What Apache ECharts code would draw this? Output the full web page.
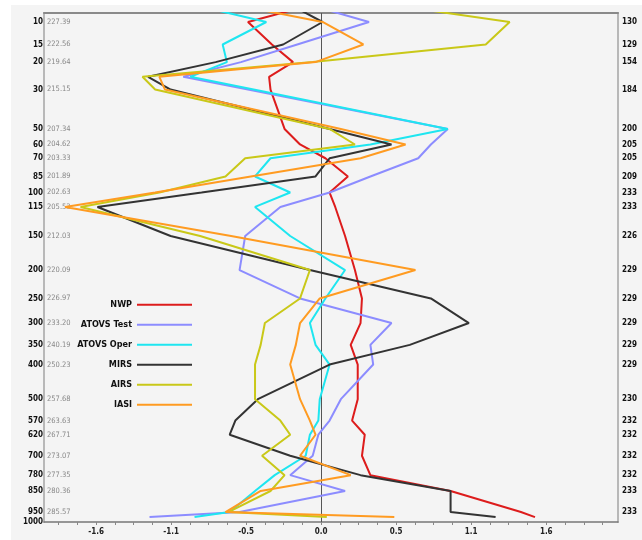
<!DOCTYPE html>
<html><head><meta charset="utf-8">
<script src="https://cdn.jsdelivr.net/npm/echarts@6/dist/echarts.min.js"></script>
<style>
html,body{margin:0;padding:0;background:#fff;width:642px;height:540px;overflow:hidden;}
#c{position:absolute;left:11px;top:5px;width:631px;height:535px;background:#f4f4f4;}
</style></head>
<body><div id="c"></div>
<script>
// Profile levels (hPa) where the curves have vertices
const levels = [8,10,15,20,25,30,50,60,70,85,100,115,150,200,250,300,350,400,500,570,620,700,780,850,950,975];
// Series values (one per level)
const nwp       = [-0.22,-0.52,-0.35,-0.20,-0.37,-0.36,-0.26,-0.15,0.03,0.19,0.06,0.10,0.17,0.24,0.29,0.28,0.21,0.26,0.26,0.22,0.31,0.29,0.35,0.92,1.42,1.52];
const atovsTest = [0.06,0.34,-0.17,-0.57,-0.98,-0.52,0.90,0.78,0.69,0.35,0.06,-0.29,-0.54,-0.58,-0.15,0.50,0.35,0.37,0.14,0.06,-0.02,-0.06,-0.22,0.17,-0.58,-1.22];
const atovsOper = [-0.73,-0.39,-0.70,-0.67,-0.93,-0.48,0.90,0.35,-0.36,-0.47,-0.22,-0.47,-0.22,0.17,0.03,-0.08,-0.04,0.06,-0.01,-0.02,-0.08,-0.11,-0.33,-0.47,-0.65,-0.90];
const mirs      = [-0.14,0.01,-0.27,-0.75,-1.23,-1.07,0.06,0.50,0.06,-0.04,-0.85,-1.59,-1.07,-0.08,0.78,1.05,0.63,0.06,-0.45,-0.61,-0.65,-0.22,0.28,0.92,0.92,1.24];
const airs      = [0.78,1.34,1.17,-0.06,-1.27,-1.18,0.06,0.24,-0.54,-0.68,-1.15,-1.71,-0.86,-0.08,-0.15,-0.40,-0.43,-0.47,-0.47,-0.29,-0.22,-0.42,-0.26,-0.36,-0.66,0.04];
const iasi      = [-0.40,0.01,0.30,-0.04,-1.15,-1.11,0.14,0.60,0.28,-0.50,-1.18,-1.82,-0.64,0.67,-0.01,-0.15,-0.18,-0.22,-0.15,-0.08,-0.04,-0.15,0.21,-0.43,-0.68,0.52];

// Tick labels
const pressureLabels = [10,15,20,30,50,60,70,85,100,115,150,200,250,300,350,400,500,570,620,700,780,850,950,1000];
const tempLabels = ['227.39','222.56','219.64','215.15','207.34','204.62','203.33','201.89','202.63','205.53','212.03','220.09','226.97','233.20','240.19','250.23','257.68','263.63','267.71','273.07','277.35','280.36','285.57',''];
const rightLabels = ['130','129','154','184','200','205','205','209','233','233','226','229','229','229','229','229','230','232','232','232','232','233','233',''];
const xStep = 1.6/3;
const xTickLabels = [-3,-2,-1,0,1,2,3].map(k => k*xStep);

const seriesNames = ['NWP','ATOVS Test','ATOVS Oper','MIRS','AIRS','IASI'];
const seriesValues = [nwp, atovsTest, atovsOper, mirs, airs, iasi];
const colors = ['#dd1c1c','#8c8cff','#1ee6f0','#333333','#c9c818','#ff9b21'];

// pressure scale p^0.286
const EXP = 0.286;
const tf = p => Math.pow(p, EXP);
const yMin = 1.837, yMax = tf(1000);
const idxOf = v => pressureLabels.findIndex(p => Math.abs(tf(p) - v) < 1e-6);
const labelVals = pressureLabels.map(tf);
const minorTicks = [];
for (let k = -14; k <= 15; k++) minorTicks.push(k * xStep / 4);

const narrow = '"Liberation Sans Narrow","DejaVu Sans Condensed","Liberation Sans",sans-serif';

const chart = echarts.init(document.getElementById('c'), null, {renderer:'canvas'});
const yBase = {
  type:'value', min:yMin, max:yMax, inverse:true,
  splitLine:{show:false}, axisTick:{show:false}
};
chart.setOption({
  animation:false,
  backgroundColor:'#f4f4f4',
  grid:{left:33, top:8, right:24, bottom:18},
  legend:{
    orient:'vertical', right:449, top:295, padding:0,
    align:'right', itemWidth:55, itemHeight:12, itemGap:10.4,
    itemStyle:{opacity:0},
    data:seriesNames,
    textStyle:{fontFamily:narrow, fontWeight:'bold', fontSize:9, color:'#111'}
  },
  xAxis:[{
    type:'value', position:'bottom', min:-1.97, max:2.11,
    splitLine:{show:false},
    axisLine:{show:true, onZero:false, lineStyle:{color:'#777', width:1.5}},
    axisTick:{show:true, customValues:minorTicks, length:3, lineStyle:{color:'#888'}},
    axisLabel:{customValues:xTickLabels, formatter:v => v.toFixed(1), fontSize:8, color:'#222', fontWeight:'bold', fontFamily:narrow, margin:6}
  },{
    type:'value', position:'top', min:-1.97, max:2.11,
    splitLine:{show:false},
    axisLine:{show:true, onZero:false, lineStyle:{color:'#8a8a8a', width:2}},
    axisTick:{show:false}, axisLabel:{show:false}
  }],
  yAxis:[
    Object.assign({}, yBase, {
      position:'left',
      axisLine:{show:true, onZero:false, lineStyle:{color:'#b8b8b8', width:2}},
      axisLabel:{customValues:labelVals, formatter:v => String(pressureLabels[idxOf(v)]),
        fontSize:8, fontWeight:'bold', color:'#111', fontFamily:narrow, margin:1}
    }),
    Object.assign({}, yBase, {
      position:'left',
      axisLine:{show:false},
      axisLabel:{inside:true, customValues:labelVals, formatter:v => tempLabels[idxOf(v)],
        fontSize:7.5, color:'#888', fontFamily:narrow, margin:3}
    }),
    Object.assign({}, yBase, {
      position:'right',
      axisLine:{show:true, onZero:false, lineStyle:{color:'#b8b8b8', width:2}},
      axisLabel:{customValues:labelVals, formatter:v => rightLabels[idxOf(v)],
        fontSize:8, fontWeight:'bold', color:'#111', fontFamily:narrow, margin:4}
    })
  ],
  series: seriesNames.map((name, i) => {
    const s = {
      name, type:'line', xAxisIndex:0, yAxisIndex:0,
      symbol:'none', clip:true, z:2+i,
      color:colors[i],
      itemStyle:{opacity:0},
      lineStyle:{color:colors[i], width:2},
      data: seriesValues[i].map((v, j) => [v, tf(levels[j])])
    };
    if (i === 0) {
      s.markLine = {silent:true, symbol:['none','none'], label:{show:false},
        lineStyle:{color:'#555', width:1, type:'solid'}, data:[{xAxis:0}], z:1};
    }
    return s;
  })
});
</script>
</body></html>
